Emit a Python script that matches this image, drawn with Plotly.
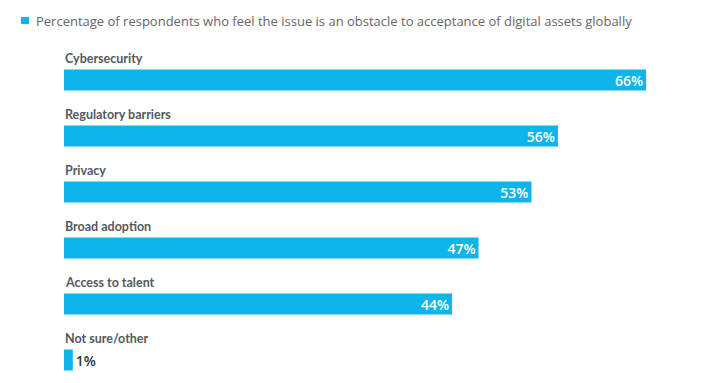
import plotly.graph_objects as go

categories = ["Cybersecurity", "Regulatory barriers", "Privacy", "Broad adoption", "Access to talent", "Not sure/other"]
values = [66, 56, 53, 47, 44, 1]
labels = ["66%", "56%", "53%", "47%", "44%", "1%"]
series_name = "Percentage of respondents who feel the issue is an obstacle to acceptance of digital assets globally"

BAR = "#0db5ea"
ypos = list(range(len(categories)))

# page body adds an 8px offset; layout values compensate
L, T, W, H = 56, 44, 641, 328

fig = go.Figure()
fig.add_trace(go.Bar(
    x=values, y=ypos, orientation="h", width=0.375, name=series_name,
    marker=dict(color=BAR, line=dict(width=0)),
    text=labels,
    textposition=["inside" if v > 5 else "outside" for v in values],
    insidetextanchor="end", constraintext="none",
    insidetextfont=dict(family="Open Sans", size=14, color="white", weight=600),
    outsidetextfont=dict(family="Open Sans", size=14, color="#333333", weight=600),
    textangle=0, cliponaxis=False, showlegend=False, hoverinfo="skip",
))

for i, c in enumerate(categories):
    fig.add_annotation(x=0, y=i, xref="x", yref="y", text="<b>" + c + "</b>",
                       showarrow=False, xanchor="left", yanchor="middle", yshift=22, xshift=-1,
                       font=dict(family="Lato", size=12.5, color="#55595e"))

# legend key
fig.add_shape(type="rect", xref="paper", yref="paper",
              x0=-43 / W, x1=-35 / W, y0=1 + 28 / H, y1=1 + 35 / H,
              fillcolor=BAR, line=dict(width=0))
fig.add_annotation(x=-30 / W, y=1 + 31.5 / H, xref="paper", yref="paper", text=series_name,
                   showarrow=False, xanchor="left", yanchor="middle",
                   font=dict(family="Open Sans", size=13, color="#666666"))

fig.update_layout(
    width=697, height=375,
    margin=dict(l=L, r=0, t=T, b=375 - T - H, autoexpand=False),
    paper_bgcolor="white", plot_bgcolor="white",
    xaxis=dict(range=[0, W / 8.82], visible=False, fixedrange=True),
    yaxis=dict(range=[5.357, -0.5], visible=False, fixedrange=True),
    showlegend=False,
)
fig.write_html("out.html")
